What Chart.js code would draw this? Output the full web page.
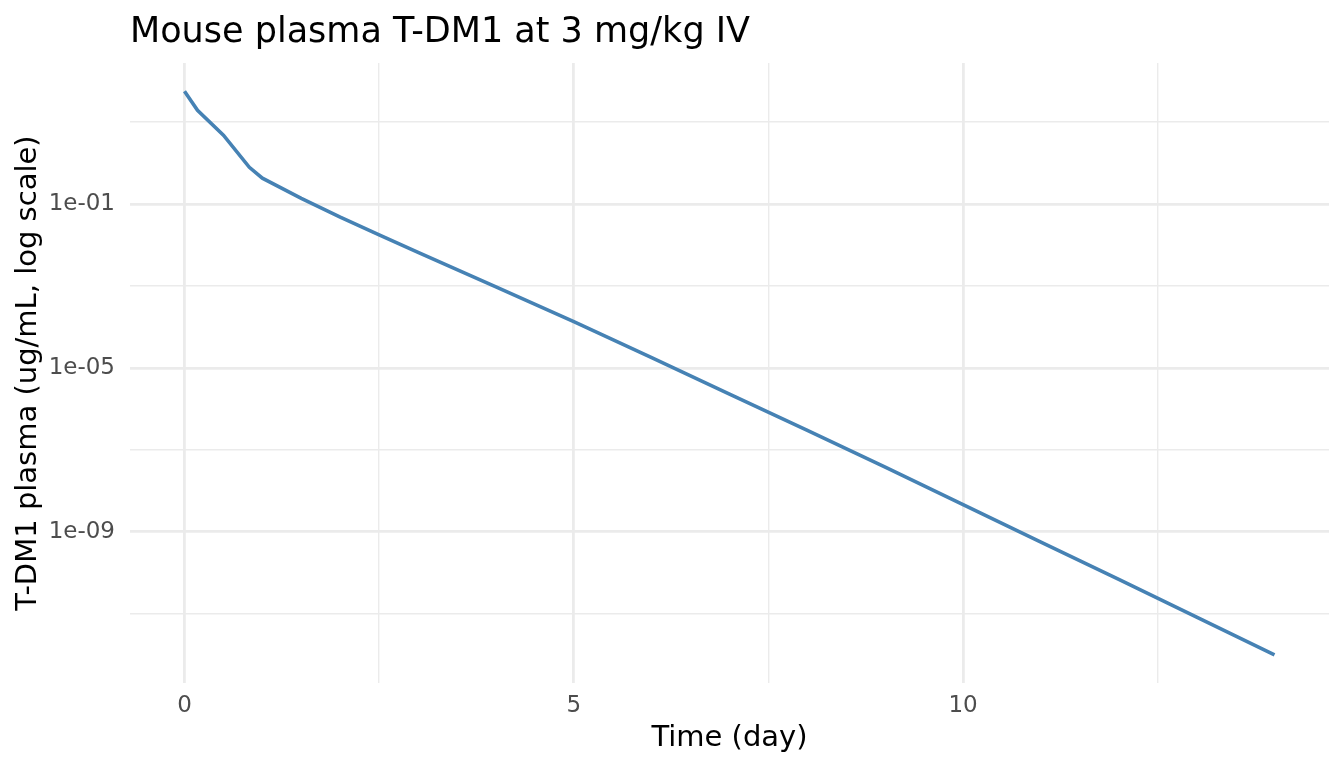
<!DOCTYPE html>
<html>
<head>
<meta charset="utf-8">
<title>Mouse plasma T-DM1</title>
<script src="https://cdn.jsdelivr.net/npm/chart.js@4.4.1/dist/chart.umd.min.js"></script>
<style>
  html, body { margin: 0; padding: 0; background: #fff; }
  canvas { display: block; }
</style>
</head>
<body>
<canvas id="pkChart" width="1344" height="768"></canvas>
<script>
// plasma concentration (ug/mL)
const timeDays = [0, 0.167, 0.5, 0.833, 1, 1.5, 2, 2.5, 3, 4, 5, 6, 7, 8, 9, 10, 11, 12, 13, 14];
const concPlasma = [57, 19.5, 4.8, 0.79, 0.43, 0.138, 0.048, 0.0178, 0.0066, 9.5e-4, 1.35e-4, 1.8e-5,
  2.3e-6, 3.0e-7, 3.8e-8, 4.6e-9, 5.6e-10, 6.9e-11, 8.3e-12, 1.0e-12];

const xTicks = [0, 2.5, 5, 7.5, 10, 12.5];
const xLabels = ['0', '', '5', '', '10', ''];
const yTicks = [1e1, 1e-1, 1e-3, 1e-5, 1e-7, 1e-9, 1e-11];
const yLabels = ['', '1e-01', '', '1e-05', '', '1e-09', ''];

const FONT = '"DejaVu Sans", sans-serif';

// ggplot style 5% expansion of the data range (log space for y)
const tMin = Math.min(...timeDays), tMax = Math.max(...timeDays);
const tPad = (tMax - tMin) * 0.05;
const lMin = Math.log10(Math.min(...concPlasma)), lMax = Math.log10(Math.max(...concPlasma));
const lPad = (lMax - lMin) * 0.05;

const points = timeDays.map((t, i) => ({ x: t, y: concPlasma[i] }));

const titlePlugin = {
  id: 'plotTitle',
  afterDraw(chart) {
    const c = chart.ctx;
    c.save();
    c.font = '35px ' + FONT;
    c.fillStyle = '#000';
    c.textBaseline = 'alphabetic';
    c.textAlign = 'left';
    c.fillText('Mouse plasma T-DM1 at 3 mg/kg IV', chart.chartArea.left, 42);
    c.restore();
  }
};

function isMajor(labels, ticks, value) {
  return labels[ticks.indexOf(value)] !== '';
}

new Chart(document.getElementById('pkChart').getContext('2d'), {
  type: 'line',
  data: {
    datasets: [{
      label: 'T-DM1 plasma',
      data: points,
      borderColor: '#4682b4',
      borderWidth: 3.6,
      pointRadius: 0,
      tension: 0,
      fill: false
    }]
  },
  plugins: [titlePlugin],
  options: {
    responsive: false,
    animation: false,
    devicePixelRatio: 1,
    layout: { padding: { top: 63, right: 15, bottom: 0, left: 0 } },
    plugins: {
      legend: { display: false },
      tooltip: { enabled: false },
      title: { display: false }
    },
    scales: {
      x: {
        type: 'linear',
        min: tMin - tPad,
        max: tMax + tPad,
        afterBuildTicks: s => { s.ticks = xTicks.map(v => ({ value: v })); },
        afterFit: s => { s.height = 85; },
        border: { display: false },
        grid: {
          drawTicks: false,
          color: '#ebebeb',
          lineWidth: ctx => isMajor(xLabels, xTicks, ctx.tick.value) ? 2.8 : 1.4
        },
        ticks: {
          autoSkip: false,
          maxRotation: 0,
          padding: 9,
          color: '#4d4d4d',
          font: { family: FONT, size: 23 },
          callback: v => xLabels[xTicks.indexOf(v)]
        },
        title: {
          display: true,
          text: 'Time (day)',
          color: '#000',
          font: { family: FONT, size: 29 },
          padding: { top: 0, bottom: 12 }
        }
      },
      y: {
        type: 'logarithmic',
        min: Math.pow(10, lMin - lPad),
        max: Math.pow(10, lMax + lPad),
        afterBuildTicks: s => { s.ticks = yTicks.map(v => ({ value: v })); },
        afterFit: s => { s.width = 130; },
        border: { display: false },
        grid: {
          drawTicks: false,
          color: '#ebebeb',
          lineWidth: ctx => isMajor(yLabels, yTicks, ctx.tick.value) ? 2.8 : 1.4
        },
        ticks: {
          autoSkip: false,
          padding: 15,
          color: '#4d4d4d',
          font: { family: FONT, size: 23 },
          callback: v => yLabels[yTicks.indexOf(v)]
        },
        title: {
          display: true,
          text: 'T-DM1 plasma (ug/mL, log scale)',
          color: '#000',
          font: { family: FONT, size: 29 },
          padding: { top: 11, bottom: 0 }
        }
      }
    }
  }
});
</script>
</body>
</html>
